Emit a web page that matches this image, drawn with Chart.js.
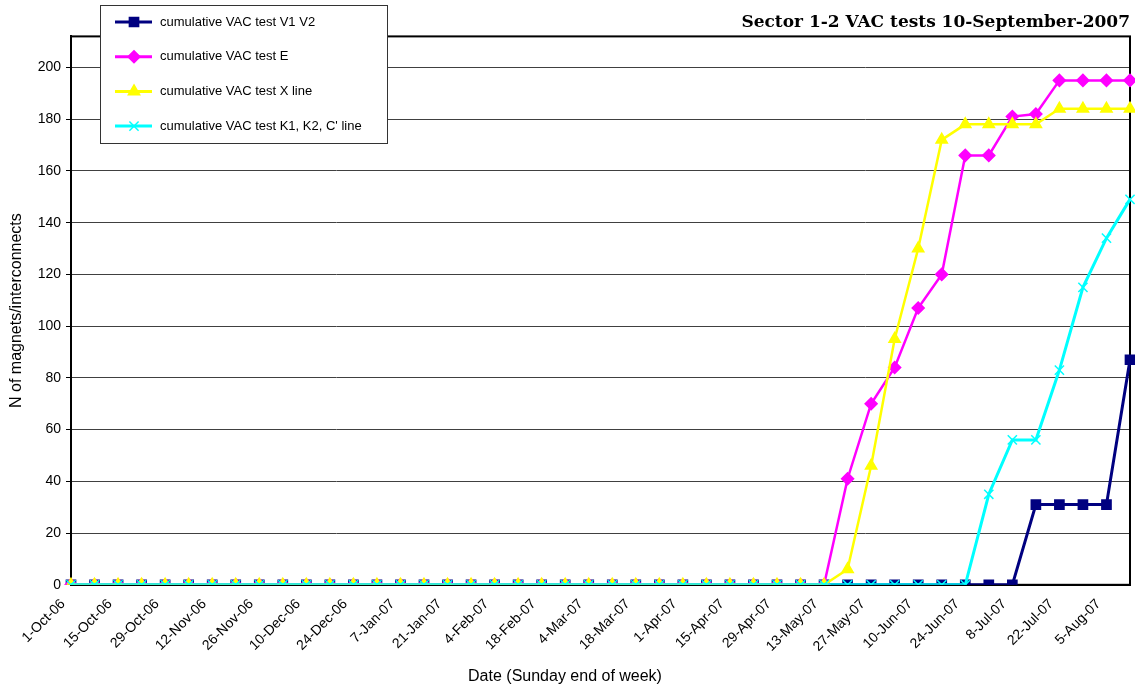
<!DOCTYPE html>
<html>
<head>
<meta charset="utf-8">
<title>Sector 1-2 VAC tests</title>
<script src="https://cdn.jsdelivr.net/npm/chart.js@4.4.0/dist/chart.umd.min.js"></script>
<style>
  html, body { margin: 0; padding: 0; background: #fff; }
  #wrap { width: 1135px; height: 690px; }
</style>
</head>
<body>
<div id="wrap"><canvas id="vacChart" width="1135" height="690"></canvas></div>
<script>
// weeks (Sunday end of week)
let weeks = ['1-Oct-06', '8-Oct-06', '15-Oct-06', '22-Oct-06', '29-Oct-06', '5-Nov-06', '12-Nov-06', '19-Nov-06',
    '26-Nov-06', '3-Dec-06', '10-Dec-06', '17-Dec-06', '24-Dec-06', '31-Dec-06', '7-Jan-07', '14-Jan-07',
    '21-Jan-07', '28-Jan-07', '4-Feb-07', '11-Feb-07', '18-Feb-07', '25-Feb-07', '4-Mar-07', '11-Mar-07',
    '18-Mar-07', '25-Mar-07', '1-Apr-07', '8-Apr-07', '15-Apr-07', '22-Apr-07', '29-Apr-07', '6-May-07',
    '13-May-07', '20-May-07', '27-May-07', '3-Jun-07', '10-Jun-07', '17-Jun-07', '24-Jun-07', '1-Jul-07',
    '8-Jul-07', '15-Jul-07', '22-Jul-07', '29-Jul-07', '5-Aug-07', '12-Aug-07'];

let testV1V2 = [0, 0, 0, 0, 0, 0, 0, 0, 0, 0, 0, 0, 0, 0, 0, 0, 0, 0, 0, 0, 0, 0, 0, 0, 0, 0, 0, 0, 0, 0, 0, 0,
    0, 0, 0, 0, 0, 0, 0, 0, 0, 31, 31, 31, 31, 87];
let testE = [0, 0, 0, 0, 0, 0, 0, 0, 0, 0, 0, 0, 0, 0, 0, 0, 0, 0, 0, 0, 0, 0, 0, 0, 0, 0, 0, 0, 0, 0, 0, 0,
    0, 41, 70, 84, 107, 120, 166, 166, 181, 182, 195, 195, 195, 195];
let testX = [0, 0, 0, 0, 0, 0, 0, 0, 0, 0, 0, 0, 0, 0, 0, 0, 0, 0, 0, 0, 0, 0, 0, 0, 0, 0, 0, 0, 0, 0, 0, 0,
    0, 6, 46, 95, 130, 172, 178, 178, 178, 178, 184, 184, 184, 184];
let testK = [0, 0, 0, 0, 0, 0, 0, 0, 0, 0, 0, 0, 0, 0, 0, 0, 0, 0, 0, 0, 0, 0, 0, 0, 0, 0, 0, 0, 0, 0, 0, 0,
    0, 0, 0, 0, 0, 0, 0, 35, 56, 56, 83, 115, 134, 149];

let seriesNames = ['cumulative VAC test V1 V2', 'cumulative VAC test E', 'cumulative VAC test X line',
    "cumulative VAC test K1, K2, C' line"];
let yTicks = [0, 20, 40, 60, 80, 100, 120, 140, 160, 180, 200];

Chart.defaults.font.family = '"Liberation Sans", Arial, sans-serif';
Chart.defaults.color = '#000';

// black frame round the plot area
const plotFrame = {
    id: 'plotFrame',
    beforeDatasetsDraw(chart) {
        const a = chart.chartArea;
        const ctx = chart.ctx;
        ctx.save();
        ctx.strokeStyle = '#000';
        ctx.lineWidth = 2;
        ctx.strokeRect(a.left, a.top, a.right - a.left, a.bottom - a.top);
        ctx.restore();
    }
};

// legend box sitting over the top-left corner, like the original
const boxLegend = {
    id: 'boxLegend',
    afterDraw(chart) {
        const ctx = chart.ctx;
        ctx.save();
        ctx.fillStyle = '#fff';
        ctx.strokeStyle = '#333';
        ctx.lineWidth = 1;
        ctx.fillRect(100.5, 5.5, 287, 138);
        ctx.strokeRect(100.5, 5.5, 287, 138);
        chart.data.datasets.forEach((ds, i) => {
            const y = 22 + i * 34.7;
            ctx.strokeStyle = ds.borderColor;
            ctx.lineWidth = 3;
            ctx.beginPath();
            ctx.moveTo(115, y);
            ctx.lineTo(152, y);
            ctx.stroke();
            ctx.fillStyle = ds.pointBackgroundColor;
            ctx.strokeStyle = ds.pointBorderColor;
            ctx.lineWidth = ds.pointBorderWidth;
            Chart.helpers.drawPoint(ctx, {
                pointStyle: ds.pointStyle,
                radius: ds.pointRadius,
                borderWidth: ds.pointBorderWidth,
                rotation: 0
            }, 134, y);
            ctx.fillStyle = '#000';
            ctx.font = '13px "Liberation Sans", Arial, sans-serif';
            ctx.textBaseline = 'middle';
            ctx.fillText(ds.label, 160, y);
        });
        ctx.restore();
    }
};

function makeSet(label, values, color, style, radius, order, lw) {
    return {
        label: label,
        data: values,
        borderColor: color,
        backgroundColor: color,
        pointBackgroundColor: color,
        pointBorderColor: color,
        pointStyle: style,
        pointRadius: radius,
        pointHoverRadius: radius,
        pointBorderWidth: 1.5,
        borderWidth: lw,
        tension: 0,
        order: order
    };
}

const ctx = document.getElementById('vacChart').getContext('2d');
const vacChart = new Chart(ctx, {
    type: 'line',
    data: {
        labels: weeks,
        datasets: [
            makeSet(seriesNames[0], testV1V2, '#000080', 'rect', 6.5, 4, 3),
            makeSet(seriesNames[1], testE, '#FF00FF', 'rectRot', 6, 3, 2.5),
            makeSet(seriesNames[2], testX, '#FFFF00', 'triangle', 6.5, 2, 2.5),
            makeSet(seriesNames[3], testK, '#00FFFF', 'crossRot', 6.5, 1, 3)
        ]
    },
    options: {
        responsive: false,
        animation: false,
        layout: { autoPadding: false, padding: { top: 0, left: 0, right: 5, bottom: 0 } },
        plugins: {
            legend: { display: false },
            tooltip: { enabled: false },
            title: {
                display: true,
                text: 'Sector 1-2 VAC tests 10-September-2007',
                align: 'end',
                color: '#000',
                font: { family: '"DejaVu Serif", "Liberation Serif", serif', size: 17, weight: 'bold' },
                padding: { top: 12, bottom: 4 }
            },
            subtitle: {
                display: true,
                position: 'bottom',
                text: 'Date (Sunday end of week)',
                color: '#000',
                font: { size: 16 },
                padding: { top: 0, bottom: 4 }
            }
        },
        scales: {
            x: {
                offset: false,
                grid: { display: false },
                border: { color: '#000', width: 2 },
                ticks: {
                    autoSkip: false,
                    maxRotation: 45,
                    minRotation: 45,
                    labelOffset: -8,
                    font: { size: 14 },
                    callback: function (value, index) {
                        return index % 2 === 0 ? this.getLabelForValue(value) : '';
                    }
                },
                afterFit: function (scale) {
                    scale.height = 82;
                    scale.paddingLeft = 0;
                    scale.paddingRight = 0;
                }
            },
            y: {
                min: 0,
                max: 212,
                afterBuildTicks: function (scale) {
                    scale.ticks = yTicks.map(v => ({ value: v }));
                },
                grid: { color: '#404040', lineWidth: 1, tickLength: 5, tickColor: '#000' },
                border: { color: '#000', width: 2 },
                ticks: { font: { size: 14 }, padding: 5 },
                title: {
                    display: true,
                    text: 'N of magnets/interconnects',
                    font: { size: 16 },
                    padding: { top: 7, bottom: 0 }
                },
                afterFit: function (scale) {
                    scale.width = 71;
                    scale.paddingTop = 0;
                    scale.paddingBottom = 0;
                }
            }
        }
    },
    plugins: [plotFrame, boxLegend]
});
</script>
</body>
</html>
